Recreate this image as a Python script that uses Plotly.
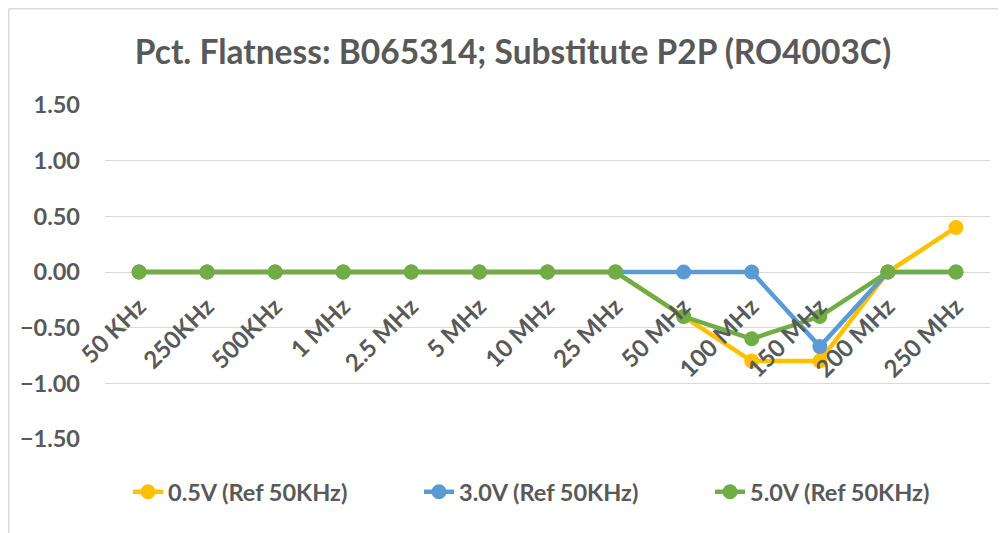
import plotly.graph_objects as go

categories = ["50 KHz", "250KHz", "500KHz", "1 MHz", "2.5 MHz", "5 MHz", "10 MHz",
              "25 MHz", "50 MHz", "100 MHz", "150 MHz", "200 MHz", "250 MHz"]
s05 = [0, 0, 0, 0, 0, 0, 0, 0, -0.40, -0.80, -0.80, 0, 0.40]
s30 = [0, 0, 0, 0, 0, 0, 0, 0, 0, 0, -0.67, 0, 0]
s50 = [0, 0, 0, 0, 0, 0, 0, 0, -0.40, -0.60, -0.40, 0, 0]
names = ["0.5V (Ref 50KHz)", "3.0V (Ref 50KHz)", "5.0V (Ref 50KHz)"]
colors = ["#FFC000", "#5B9BD5", "#70AD47"]
yticks = [-1.5, -1.0, -0.5, 0.0, 0.5, 1.0, 1.5]

FONT = "Lato"
GRAY = "#595959"
OFF = 8  # page body offset

L, R, T, B = 105 - OFF, 16 + OFF, 105 - OFF, 94 + OFF
PW, PH = 1006 - L - R, 533 - T - B

fig = go.Figure()
for vals, name, col in zip([s05, s30, s50], names, colors):
    fig.add_trace(go.Scatter(
        x=categories, y=vals, name=name, mode="lines+markers",
        line=dict(color=col, width=4.5),
        marker=dict(color=col, size=15),
    ))

fig.update_layout(
    width=1006, height=533,
    paper_bgcolor="white", plot_bgcolor="white",
    margin=dict(l=L, r=R, t=T, b=B),
    title=dict(text="Pct. Flatness: B065314; Substitute P2P (RO4003C)",
               x=(513 - OFF) / 1006, xanchor="center",
               y=1 - (52 - OFF) / 533, yanchor="middle",
               font=dict(family=FONT, size=33.5, color=GRAY, weight="bold")),
    font=dict(family=FONT, color=GRAY),
    showlegend=True,
    legend=dict(orientation="h", x=(128 - 105) / PW, xanchor="left",
                y=-(492 - 439) / PH, yanchor="middle",
                font=dict(family=FONT, size=23.5, color=GRAY, weight="bold"),
                entrywidth=246, entrywidthmode="pixels",
                traceorder="normal"),
    xaxis=dict(type="category", anchor="free", position=0.5,
               tickangle=-45, showgrid=False, showline=False, zeroline=False,
               tickfont=dict(family=FONT, size=24, color=GRAY, weight="bold"),
               ticks="", ticklabelstandoff=15, range=[-0.5, 12.5]),
    yaxis=dict(range=[-1.5, 1.5], tickvals=yticks, tickformat=".2f",
               showgrid=True, gridcolor="#D9D9D9", gridwidth=1,
               zeroline=True, zerolinecolor="#D9D9D9", zerolinewidth=1,
               showline=False, ticks="", ticklabelstandoff=24,
               tickfont=dict(family=FONT, size=23.5, color=GRAY, weight="bold")),
)
# chart frame: only top and left edges are visible in the crop
x_left = -(L - 0.75) / PW
y_top = 1 + (T - 0.75) / PH
fig.add_shape(type="line", xref="paper", yref="paper",
              x0=x_left, x1=1 + R / PW, y0=y_top, y1=y_top,
              line=dict(color="#D9D9D9", width=1.5), layer="below")
fig.add_shape(type="line", xref="paper", yref="paper",
              x0=x_left, x1=x_left, y0=-B / PH, y1=y_top,
              line=dict(color="#D9D9D9", width=1.5), layer="below")

fig.write_html("out.html")
